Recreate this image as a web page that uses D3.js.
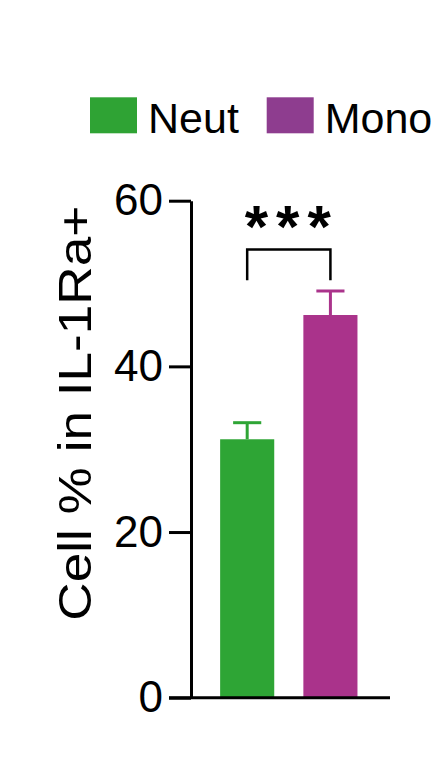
<!DOCTYPE html>
<html>
<head>
<meta charset="utf-8">
<script src="https://cdn.jsdelivr.net/npm/d3@7"></script>
<style>
  body { margin: 0; background: #fff; }
  svg { display: block; font-family: "Liberation Sans", Arial, sans-serif; }
</style>
</head>
<body>
<svg id="chart"></svg>
<script>
// data
var groups = ["Neut", "Mono"];
var means = [31.2, 46.2];
var errors = [2.0, 2.9];
var barColors = ["#2ea535", "#aa338b"];
var legendColors = ["#2fa334", "#8e3d8f"];
var yTicks = [0, 20, 40, 60];
var sigLabel = "***";
var bracketLevels = [50.4, 54.1];   // bottom / top of the bracket, in data units

var width = 444, height = 774;
var plotLeft = 191, plotRight = 386.6, plotTop = 200.7, plotBottom = 697.7;

var svg = d3.select("#chart")
    .attr("width", width)
    .attr("height", height);

var y = d3.scaleLinear()
    .domain([0, 60])
    .range([plotBottom, plotTop]);

var x = d3.scaleBand()
    .domain(groups)
    .range([plotLeft, plotRight])
    .paddingInner(0.35)
    .paddingOuter(0.35);

// bars
svg.selectAll("rect.bar")
    .data(groups)
  .enter().append("rect")
    .attr("class", "bar")
    .attr("x", function(d) { return x(d); })
    .attr("y", function(d, i) { return y(means[i]); })
    .attr("width", x.bandwidth())
    .attr("height", function(d, i) { return y(0) - y(means[i]); })
    .attr("fill", function(d, i) { return barColors[i]; });

// error bars (upper only shows above the bar)
var capW = x.bandwidth() * 0.52;
groups.forEach(function(g, i) {
    var cx = x(g) + x.bandwidth() / 2;
    svg.append("line")
        .attr("x1", cx).attr("x2", cx)
        .attr("y1", y(means[i])).attr("y2", y(means[i] + errors[i]))
        .attr("stroke", barColors[i])
        .attr("stroke-width", 3);
    svg.append("line")
        .attr("x1", cx - capW / 2).attr("x2", cx + capW / 2)
        .attr("y1", y(means[i] + errors[i])).attr("y2", y(means[i] + errors[i]))
        .attr("stroke", barColors[i])
        .attr("stroke-width", 3);
});

// y axis
var yAxis = svg.append("g")
    .attr("transform", "translate(" + plotLeft + ",0)")
    .call(d3.axisLeft(y).tickValues(yTicks).tickSize(22).tickSizeOuter(0).tickPadding(6));
yAxis.selectAll("path, line").attr("stroke", "#000").attr("stroke-width", 3);
yAxis.selectAll("text")
    .attr("fill", "#000")
    .style("font-size", "44px")
    .style("font-family", "'Liberation Sans', Arial, sans-serif");

// x baseline
svg.append("line")
    .attr("x1", plotLeft - 22).attr("x2", 390)
    .attr("y1", y(0)).attr("y2", y(0))
    .attr("stroke", "#000")
    .attr("stroke-width", 3);

// y label
svg.append("text")
    .attr("transform", "translate(91," + ((plotTop + plotBottom) / 2 - 36) + ") rotate(-90)")
    .attr("text-anchor", "middle")
    .style("font-size", "46px")
    .attr("textLength", 415)
    .attr("lengthAdjust", "spacingAndGlyphs")
    .attr("fill", "#000")
    .text("Cell % in IL-1Ra+");

// significance bracket
var bx1 = x(groups[0]) + x.bandwidth() / 2, bx2 = x(groups[1]) + x.bandwidth() / 2;
svg.append("path")
    .attr("d", "M" + bx1 + "," + y(bracketLevels[0]) + "V" + y(bracketLevels[1]) +
               "H" + bx2 + "V" + y(bracketLevels[0]))
    .attr("fill", "none")
    .attr("stroke", "#000")
    .attr("stroke-width", 2.5);
svg.append("text")
    .attr("x", (bx1 + bx2) / 2 + 3)
    .attr("y", 247)
    .attr("text-anchor", "middle")
    .style("font-size", "60px")
    .style("font-weight", "bold")
    .style("letter-spacing", "8px")
    .attr("fill", "#000")
    .text(sigLabel);

// legend
var legendX = [90, 266.7];
groups.forEach(function(g, i) {
    svg.append("rect")
        .attr("x", legendX[i]).attr("y", 97.3)
        .attr("width", 47).attr("height", 36)
        .attr("fill", legendColors[i]);
    svg.append("text")
        .attr("x", legendX[i] + 58).attr("y", 133.3)
        .style("font-size", "43px")
        .attr("fill", "#000")
        .text(g);
});
</script>
</body>
</html>
